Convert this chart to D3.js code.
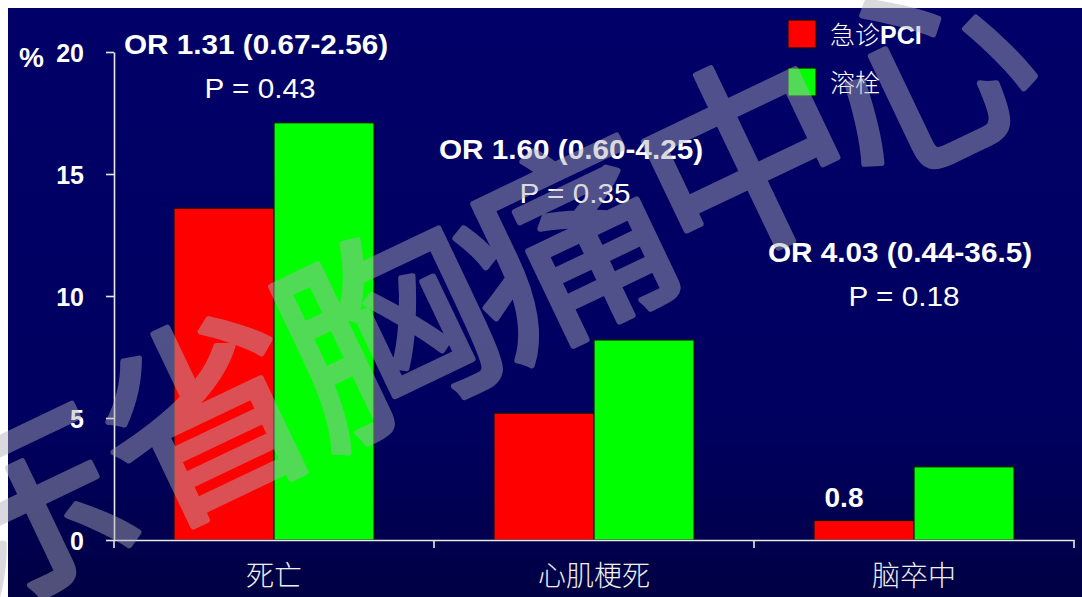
<!DOCTYPE html>
<html><head><meta charset="utf-8">
<script src="https://cdn.jsdelivr.net/npm/d3@7"></script>
<style>html,body{margin:0;padding:0;background:#fff;}svg{display:block;}</style>
</head><body>
<svg id="chart" width="1082" height="597"></svg>
<script>
const categories = ["死亡", "心肌梗死", "脑卒中"];
const seriesNames = ["急诊PCI", "溶栓"];
const pciValues = [13.6, 5.2, 0.8];
const lysisValues = [17.1, 8.2, 3.0];
const yTicks = [0, 5, 10, 15, 20];
const orLabels = ["OR 1.31 (0.67-2.56)", "OR 1.60 (0.60-4.25)", "OR 4.03 (0.44-36.5)"];
const pLabels = ["P = 0.43", "P = 0.35", "P = 0.18"];
const orLevels = [19.93, 15.6, 11.4]; // y value of OR text baseline (approx)
const watermark = ["广", "东", "省", "胸", "痛", "中", "心"];

const colors = {"急诊PCI": "#ff0000", "溶栓": "#00ff00"};
const svg = d3.select("#chart");
const W = 1082, H = 597;

const defs = svg.append("defs");
const grad = defs.append("linearGradient").attr("id", "bg").attr("x1", 0).attr("y1", 0).attr("x2", 0).attr("y2", 1);
grad.append("stop").attr("offset", "0%").attr("stop-color", "#000068");
grad.append("stop").attr("offset", "70%").attr("stop-color", "#000060");
grad.append("stop").attr("offset", "100%").attr("stop-color", "#000044");

svg.append("rect").attr("width", W).attr("height", H).attr("fill", "#ffffff");
svg.append("rect").attr("x", 8).attr("y", 8).attr("width", W - 8).attr("height", H - 8).attr("fill", "url(#bg)");

const x0 = d3.scaleBand().domain(categories).range([114, 1074]).padding(0);
const x1 = d3.scaleBand().domain(seriesNames).range([60, 260]).padding(0);
const y = d3.scaleLinear().domain([0, 20]).range([540, 52]);

const data = categories.map((c, i) => ({cat: c, vals: [
  {s: seriesNames[0], v: pciValues[i]}, {s: seriesNames[1], v: lysisValues[i]}]}));

// bars
const groups = svg.append("g").selectAll("g").data(data).join("g")
  .attr("transform", d => `translate(${x0(d.cat)},0)`);
groups.selectAll("rect.shadow").data(d => d.vals).join("rect")
  .attr("x", d => x1(d.s) + 2).attr("y", d => y(d.v) + 2)
  .attr("width", x1.bandwidth()).attr("height", d => y(0) - y(d.v) - 2)
  .attr("fill", "#000030").attr("opacity", 0.6);
groups.selectAll("rect.bar").data(d => d.vals).join("rect")
  .attr("class", "bar")
  .attr("x", d => x1(d.s)).attr("y", d => y(d.v))
  .attr("width", x1.bandwidth()).attr("height", d => y(0) - y(d.v))
  .attr("fill", d => colors[d.s]).attr("stroke", "#111").attr("stroke-width", 1.2);

// y axis
const yAxis = svg.append("g").attr("transform", "translate(114,0)")
  .call(d3.axisLeft(y).tickValues(yTicks).tickSize(8).tickSizeOuter(0).tickPadding(22));
yAxis.select(".domain").attr("stroke", "#e8e8e8").attr("stroke-width", 1.6);
yAxis.selectAll(".tick line").attr("stroke", "#e8e8e8").attr("stroke-width", 1.6);
yAxis.selectAll(".tick text").attr("fill", "#fff").attr("font-family", "Liberation Sans, Arial, sans-serif")
  .attr("font-size", 25).attr("font-weight", "bold").attr("dy", "0.36em");
svg.append("text").attr("x", 19).attr("y", 67).text("%")
  .attr("fill", "#fff").attr("font-family", "Liberation Sans, Arial, sans-serif")
  .attr("font-size", 28).attr("font-weight", "bold");

// x axis
const xAxis = svg.append("g").attr("transform", "translate(0,540)")
  .call(d3.axisBottom(x0).tickSize(0).tickSizeOuter(0).tickPadding(24));
xAxis.select(".domain").attr("stroke", "#e8e8e8").attr("stroke-width", 1.6);
xAxis.selectAll(".tick text").attr("fill", "#f0f0f0")
  .attr("font-family", "Noto Sans CJK SC, sans-serif").attr("font-weight", 300)
  .attr("font-size", 28).attr("dy", "0.8em");
const bounds = categories.map(c => x0(c)).concat([x0(categories[categories.length - 1]) + x0.bandwidth()]);
xAxis.selectAll("line.bound").data(bounds).join("line").attr("class", "bound")
  .attr("x1", d => d).attr("x2", d => d).attr("y1", 0).attr("y2", 8)
  .attr("stroke", "#e8e8e8").attr("stroke-width", 1.6);

// OR & P annotations
const annX = [256, 571, 900];
const ann = svg.append("g");
categories.forEach((c, i) => {
  const yy = y(orLevels[i]);
  ann.append("text").attr("transform", `translate(${annX[i]},${yy}) scale(1.1,1)`)
    .attr("text-anchor", "middle").attr("fill", "#fff")
    .attr("font-family", "Liberation Sans, Arial, sans-serif").attr("font-weight", "bold")
    .attr("font-size", 27).text(orLabels[i]);
  ann.append("text").attr("transform", `translate(${annX[i] + 4},${yy + 44}) scale(1.1,1)`)
    .attr("text-anchor", "middle").attr("fill", "#fff")
    .attr("font-family", "Liberation Sans, Arial, sans-serif")
    .attr("font-size", 27).text(pLabels[i]);
});

// 0.8 label
svg.append("text").attr("x", x0(categories[2]) + x1(seriesNames[0]) + 30).attr("y", y(pciValues[2]) - 13)
  .attr("text-anchor", "middle").attr("fill", "#fff")
  .attr("font-family", "Liberation Sans, Arial, sans-serif").attr("font-weight", "bold")
  .attr("font-size", 28).text(pciValues[2]);

// legend
const leg = svg.append("g").attr("transform", "translate(788,20)");
seriesNames.forEach((s, i) => {
  leg.append("rect").attr("x", 0).attr("y", i * 48).attr("width", 28).attr("height", 28)
    .attr("fill", colors[s]).attr("stroke", "#111").attr("stroke-width", 1.2);
  const t = leg.append("text").attr("x", 42).attr("y", i * 48 + 24).attr("fill", "#fff")
    .attr("font-size", 25);
  const m = s.match(/^([^A-Za-z]+)(.*)$/);
  t.append("tspan").attr("font-family", "Noto Sans CJK SC, sans-serif").attr("font-weight", 300).text(m[1]);
  if (m[2]) t.append("tspan").attr("font-family", "Liberation Sans, Arial, sans-serif").attr("font-weight", "bold").text(m[2]);
});

// watermark
const wm = svg.append("g").attr("opacity", 0.46)
  .attr("transform", "translate(18,492) rotate(-25.5)");
wm.selectAll("text").data(watermark).join("text")
  .attr("x", (d, i) => (i - 1) * 200).attr("y", 0)
  .attr("text-anchor", "middle").attr("dominant-baseline", "central")
  .attr("font-family", "Noto Sans CJK SC, sans-serif").attr("font-size", 208)
  .attr("fill", "rgb(175,175,185)").attr("stroke", "rgb(175,175,185)")
  .attr("stroke-width", 6).attr("stroke-linejoin", "round").text(d => d);
</script>
</body></html>
